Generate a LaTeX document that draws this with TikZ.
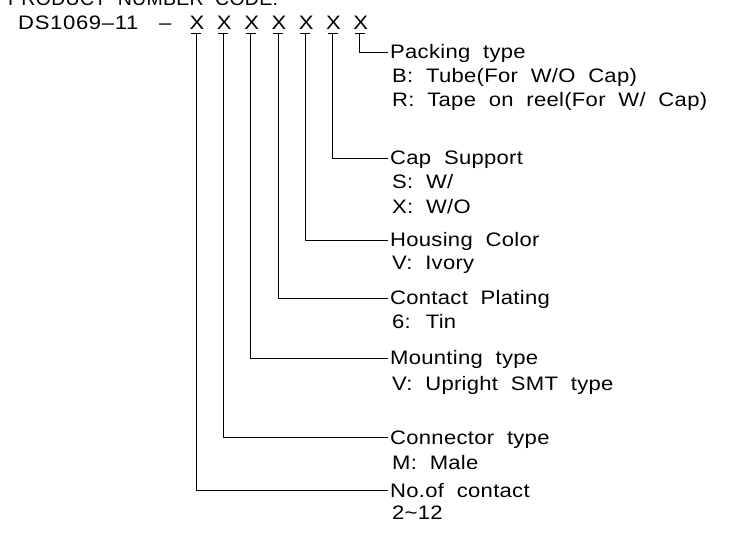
\documentclass[tikz,border=0pt]{standalone}
\usepackage{fontspec}
\setmainfont{Liberation Sans}[FakeStretch=1.13,LetterSpace=1.5,WordSpace=2]
\newfontfamily\hdrfont{Liberation Sans}[LetterSpace=1.5,WordSpace=2]
\newfontfamily\pnfont{Liberation Sans}[FakeStretch=1.13,LetterSpace=3.5]
\begin{document}
\begin{tikzpicture}[x=1pt,y=-1pt,
  lbl/.style={anchor=base west,inner sep=0pt,font=\fontsize{19.5}{21}\selectfont},
  xch/.style={anchor=base,inner sep=0pt,font=\fontsize{19.5}{21}\selectfont},
  ln/.style={line width=0.75pt,black}]
\useasboundingbox (0,0) rectangle (731,534);
\clip (0,0) rectangle (731,534);
% header
\node[lbl] (title) at (8,6) {\hdrfont PRODUCT NUMBER CODE.};
\node[lbl] (pn) at (18,30) {\pnfont DS1069–11};
\node[lbl] (dash) at (159,30) {–};
\foreach \i/\x in {1/196,2/223.3,3/250.6,4/277.9,5/305.2,6/332.5,7/359.8}{
  \node[xch] (x\i) at (\x+1,30) {X};
  \coordinate (u\i) at (\x,33);
  \draw[ln] ([xshift=-5pt]u\i) -- ([xshift=5pt]u\i);
}
% rows: index / line y / name
\foreach \i/\y/\n in {7/52/pack,6/158/cap,5/240/hou,4/298/cont,3/358/mou,2/437/ctype,1/490/noc}{
  \coordinate (c\i) at (u\i |- 0,\y);
  \coordinate (e\i) at (388,\y);
  \draw[ln] (u\i) -- (c\i) -- (e\i);
}
% main labels
\node[lbl] (pack)  at (390,59)  {Packing type};
\node[lbl] (cap)   at (390,165) {Cap Support};
\node[lbl] (hou)   at (390,247) {Housing Color};
\node[lbl] (cont)  at (390,305) {Contact Plating};
\node[lbl] (mou)   at (390,365) {Mounting type};
\node[lbl] (ctype) at (390,444) {Connector type};
\node[lbl] (noc)   at (390,497) {No.of contact};
% options
\node[lbl] (packB) at (392,83)  {B: Tube(For W/O Cap)};
\node[lbl] (packR) at (392,107) {R: Tape on reel(For W/ Cap)};
\node[lbl] (capS)  at (392,189) {S: W/};
\node[lbl] (capX)  at (392,214) {X: W/O};
\node[lbl] (houV)  at (392,270) {V: Ivory};
\node[lbl] (cont6) at (392,329) {6: Tin};
\node[lbl] (mouV)  at (392,391) {V: Upright SMT type};
\node[lbl] (ctM)   at (392,469) {M: Male};
\node[lbl] (noR)   at (392,519) {2\textasciitilde 12};
\end{tikzpicture}
\end{document}
